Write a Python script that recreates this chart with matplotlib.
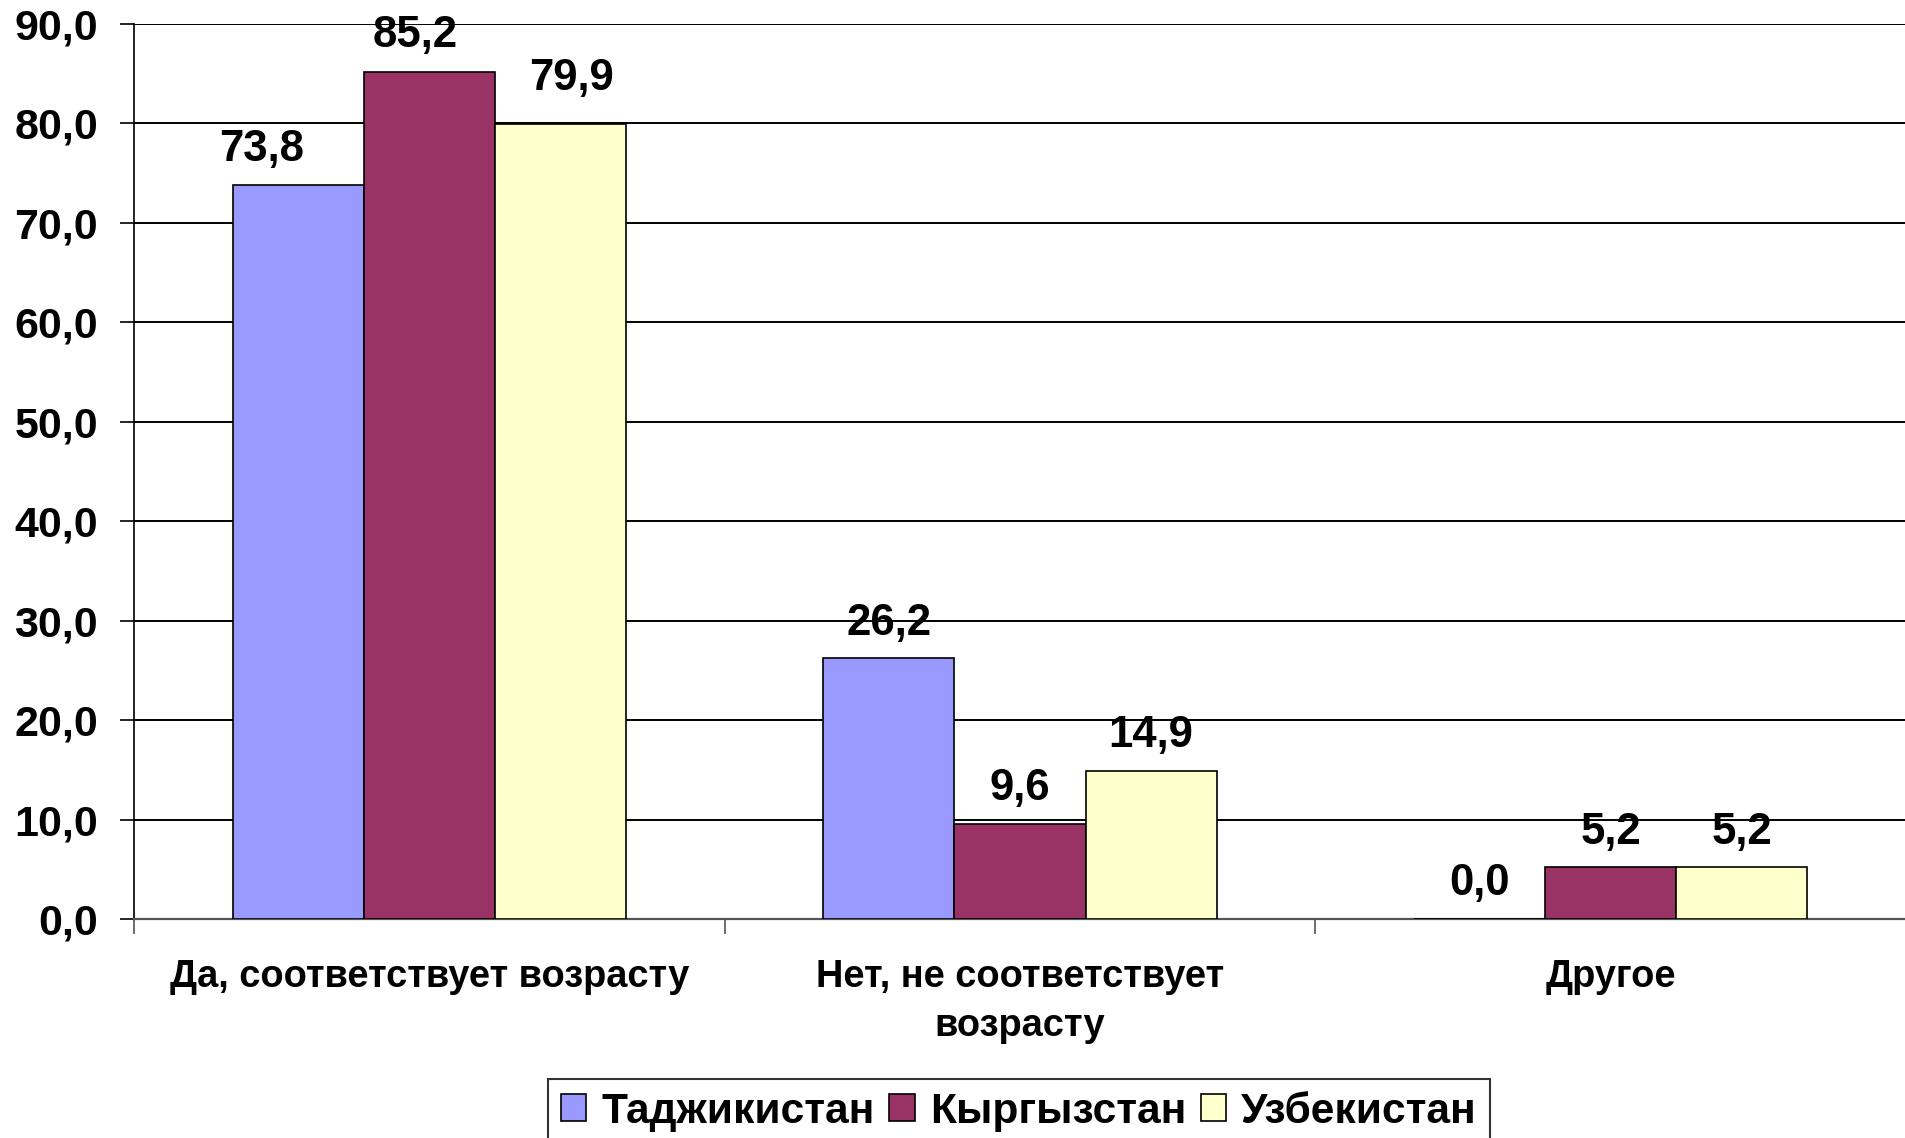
import matplotlib
matplotlib.use("Agg")
import matplotlib.pyplot as plt
import numpy as np

categories = ["Да, соответствует возрасту", "Нет, не соответствует\nвозрасту", "Другое"]
series_names = ["Таджикистан", "Кыргызстан", "Узбекистан"]
tajikistan = [73.8, 26.2, 0.0]
kyrgyzstan = [85.2, 9.6, 5.2]
uzbekistan = [79.9, 14.9, 5.2]
colors = ["#9999FF", "#993366", "#FFFFCC"]
yticks = [0, 10, 20, 30, 40, 50, 60, 70, 80, 90]

plt.rcParams['font.family'] = ['Liberation Sans', 'DejaVu Sans']
plt.rcParams['font.weight'] = 'bold'

fig = plt.figure(figsize=(19.06, 11.38), dpi=100)
ax = fig.add_axes([0.0703, 0.1924, 0.9297, 0.979 - 0.1924])

x = np.arange(len(categories))
w = 0.222
data = [tajikistan, kyrgyzstan, uzbekistan]
# manual label nudges (points) for the first group, as in the original
nudges = {(0, 0): (-26, 0), (1, 0): (-10, 1), (2, 0): (8, 8)}
for i, (vals, name, c) in enumerate(zip(data, series_names, colors)):
    bars = ax.bar(x + (i - 1) * w, vals, width=w, color=c, edgecolor="black",
                  linewidth=1.2, label=name, zorder=3)
    for j, (b, v) in enumerate(zip(bars, vals)):
        dx, dy = nudges.get((i, j), (0, 0))
        ax.annotate(f"{v:.1f}".replace(".", ","),
                    xy=(b.get_x() + b.get_width() / 2, v),
                    xytext=(dx, 10.5 + dy), textcoords="offset points",
                    ha="center", va="bottom", fontsize=31.5, fontweight='bold')

ax.set_xlim(-0.5, 2.5)
ax.set_ylim(0, 90)
ax.set_yticks(yticks)
ax.set_yticklabels([f"{v:.1f}".replace(".", ",") for v in yticks], fontsize=31, fontweight='bold')
ax.yaxis.grid(True, color="black", linewidth=1.4, zorder=0)
ax.set_axisbelow(True)

ax.set_xticks([-0.5, 0.5, 1.5])
ax.set_xticklabels([])
ax.set_xticks(x, minor=True)
ax.set_xticklabels(categories, minor=True, fontsize=27.4, fontweight='bold', linespacing=1.45)
ax.tick_params(axis='x', which='minor', length=0, pad=29)
ax.tick_params(axis='x', which='major', length=11, width=1.2, color="#555555")
ax.tick_params(axis='y', length=10, width=1.2, pad=16)

for s in ["top", "right"]:
    ax.spines[s].set_visible(False)
ax.spines["left"].set_linewidth(1.2)
ax.spines["bottom"].set_linewidth(1.6)
ax.spines["bottom"].set_color("#555555")

leg = fig.legend(loc="upper left", bbox_to_anchor=(0.2875, 0.0518), ncol=3,
                 fontsize=30.6, frameon=True, fancybox=False, edgecolor="black",
                 handlelength=0.6, handleheight=0.6, handletextpad=0.35,
                 columnspacing=0.35, borderpad=0.3, borderaxespad=0)
leg.get_frame().set_linewidth(1.5)
for t in leg.get_texts():
    t.set_fontweight('bold')

fig.savefig("out.png", dpi=100)
